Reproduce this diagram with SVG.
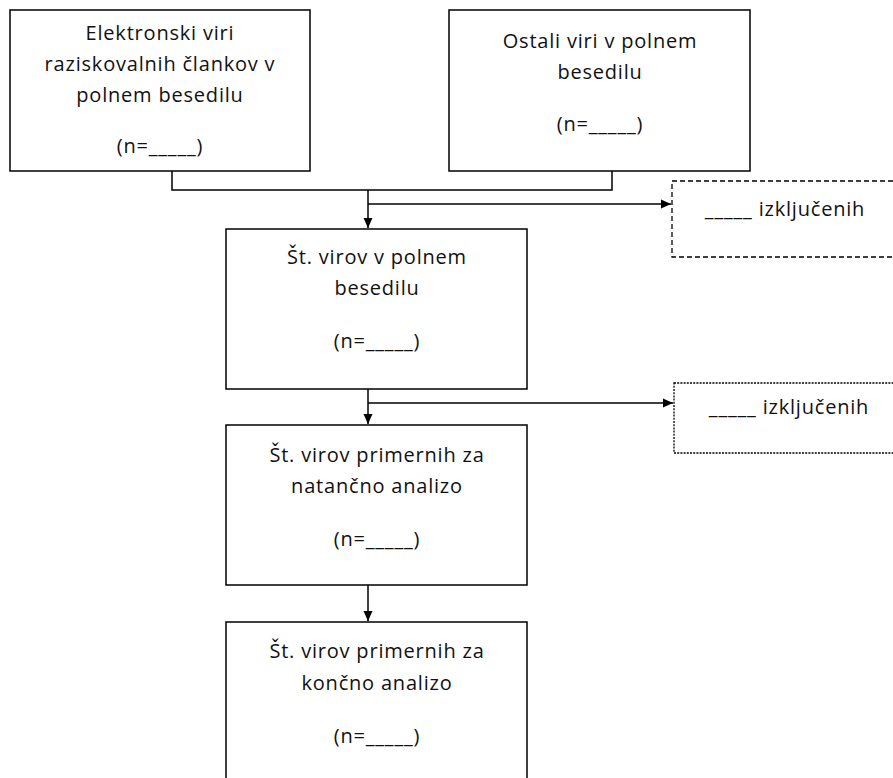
<svg xmlns="http://www.w3.org/2000/svg" width="893" height="778" viewBox="0 0 893 778">
<style>
.box{fill:#fff;stroke:#000;stroke-width:1.5}
.dash{fill:#fff;stroke:#000;stroke-width:1.3;stroke-dasharray:5 3}
.dot{fill:#fff;stroke:#000;stroke-width:1.3;stroke-dasharray:2 1.2}
.t{font-family:"Open Sans","Liberation Sans",sans-serif;font-size:20px;letter-spacing:0.8px;fill:#111;text-anchor:middle}
.c{fill:none;stroke:#000;stroke-width:1.5}
</style>
<defs>
<marker id="ah" markerUnits="userSpaceOnUse" markerWidth="12" markerHeight="12" refX="10" refY="6" orient="auto">
<path d="M0,1.5 L10,6 L0,10.5 z" fill="#000"/>
</marker>
</defs>
<rect width="893" height="778" fill="#fff"/>
<g id="connectors">
<path class="c" d="M172,171 V190 H612 V171"/>
<path class="c" d="M368,190 V228" marker-end="url(#ah)"/>
<path class="c" d="M368,204 H671" marker-end="url(#ah)"/>
<path class="c" d="M368,389 V424" marker-end="url(#ah)"/>
<path class="c" d="M368,403 H673" marker-end="url(#ah)"/>
<path class="c" d="M368,585 V621" marker-end="url(#ah)"/>
</g>
<g id="n1">
<rect class="box" x="10" y="10" width="300" height="161"/>
<text class="t" x="160" y="40">Elektronski viri</text>
<text class="t" x="160" y="71">raziskovalnih člankov v</text>
<text class="t" x="160" y="102">polnem besedilu</text>
<text class="t" x="160" y="153">(n=_____)</text>
</g>
<g id="n2">
<rect class="box" x="449" y="10" width="301" height="161"/>
<text class="t" x="600" y="48">Ostali viri v polnem</text>
<text class="t" x="600" y="79">besedilu</text>
<text class="t" x="600" y="131">(n=_____)</text>
</g>
<g id="x1">
<rect class="dash" x="672" y="181" width="232" height="76"/>
<text class="t" x="785" y="216">_____ izključenih</text>
</g>
<g id="n3">
<rect class="box" x="226" y="229" width="301" height="160"/>
<text class="t" x="377" y="264">Št. virov v polnem</text>
<text class="t" x="377" y="295">besedilu</text>
<text class="t" x="377" y="348">(n=_____)</text>
</g>
<g id="x2">
<rect class="dot" x="674" y="383" width="230" height="70"/>
<text class="t" x="789" y="414">_____ izključenih</text>
</g>
<g id="n4">
<rect class="box" x="226" y="425" width="301" height="160"/>
<text class="t" x="377" y="462">Št. virov primernih za</text>
<text class="t" x="377" y="493">natančno analizo</text>
<text class="t" x="377" y="546">(n=_____)</text>
</g>
<g id="n5">
<rect class="box" x="226" y="622" width="301" height="170"/>
<text class="t" x="377" y="658">Št. virov primernih za</text>
<text class="t" x="377" y="690">končno analizo</text>
<text class="t" x="377" y="743">(n=_____)</text>
</g>
</svg>
